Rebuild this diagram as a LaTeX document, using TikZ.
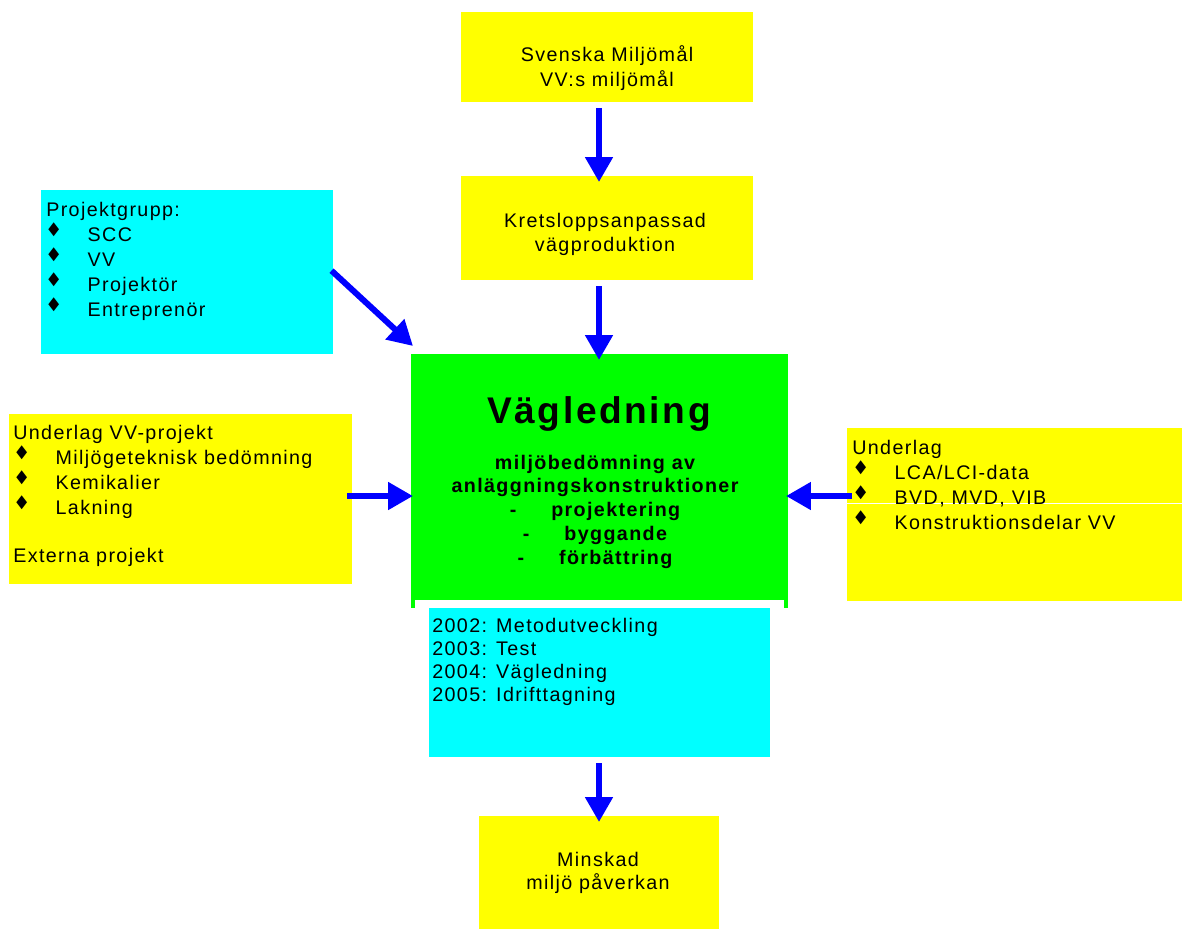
\documentclass[tikz,border=0pt]{standalone}
\usepackage{fontspec}
\setmainfont{Liberation Sans}[LetterSpace=7]
\newfontfamily\bulfont{DejaVu Sans}
\usetikzlibrary{arrows.meta,fit}

\definecolor{vyellow}{RGB}{255,255,0}
\definecolor{vcyan}{RGB}{0,255,255}
\definecolor{vgreen}{RGB}{0,255,0}
\definecolor{vblue}{RGB}{0,0,255}

\newcommand{\bul}{\makebox[28pt][l]{\raisebox{\dimexpr 8pt-(\height-\depth)/2\relax}[8pt][0pt]{\scalebox{1}[1.3]{\bulfont\fontsize{10}{10}\selectfont ◆}}}}

\tikzset{
  box/.style={inner sep=0pt, outer sep=0pt},
  ybox/.style={box, fill=vyellow},
  cbox/.style={box, fill=vcyan},
  txt/.style={inner sep=0pt, anchor=base west, font=\fontsize{14}{17}\selectfont},
  ctxt/.style={txt, anchor=base},
  btxt/.style={ctxt, font=\bfseries\fontsize{14}{17}\selectfont},
  arr/.style={vblue, line width=0.15cm, -{Triangle[length=0.62cm,width=0.66cm]},
    shorten <=0.15cm, shorten >=-0.15cm}
}

\begin{document}
\begin{tikzpicture}[x=0.025cm, y=-0.025cm]
\useasboundingbox (0,0) rectangle (1182,930);

% boxes
\node[ybox, fit={(461,12)(753,102)}] (goal) {};
\node[ybox, fit={(461,176)(753,280)}] (krets) {};
\node[cbox, fit={(41,190)(333,354)}] (proj) {};
\node[box, fill=vgreen, fit={(411,354)(788,608)}] (guide) {};
\fill[white] (415,600) rectangle (784,608);
\node[ybox, fit={(9,414)(352,584)}] (vvproj) {};
\node[ybox, fit={(847,428)(1182,601)}] (lca) {};
\draw[white, line width=0.5pt] (lca.west |- 0,503) -- (lca.east |- 0,503);
\node[cbox, fit={(429,608)(770,757)}] (plan) {};
\node[ybox, fit={(479,816)(719,929)}] (result) {};

% texts
\node[ctxt] (goal1) at (607,61) {Svenska Miljömål};
\node[ctxt] (goal2) at (607,86) {VV:s miljömål};
\node[ctxt] (krets1) at (605,227) {Kretsloppsanpassad};
\node[ctxt] (krets2) at (605,251) {vägproduktion};

\node[txt] (proj0) at (46,216) {Projektgrupp:};
\foreach \t [count=\i] in {SCC,VV,Projektör,Entreprenör}
  \node[txt] (proj\i) at (48,216+25*\i) {\bul\t};

\node[txt] (vv0) at (13,439) {Underlag VV-projekt};
\foreach \t [count=\i] in {Miljögeteknisk bedömning,Kemikalier,Lakning}
  \node[txt] (vv\i) at (16,439+25*\i) {\bul\t};
\node[txt] (vv4) at (13,562) {Externa projekt};

\node[txt] (lca0) at (852,454) {Underlag};
\foreach \t [count=\i] in {LCA/LCI-data,{BVD, MVD, VIB},Konstruktionsdelar VV}
  \node[txt] (lca\i) at (855,454+25*\i) {\bul\t};

\node[ctxt, font=\bfseries\fontsize{26.4}{30}\selectfont] (title) at (599,423) {Vägledning};
\node[btxt] (sub1) at (595,469) {miljöbedömning av};
\node[btxt] (sub2) at (595,492) {anläggningskonstruktioner};
\foreach \t [count=\i] in {projektering,byggande,förbättring}
  \node[btxt] (step\i) at (595,493+23.7*\i) {\makebox[29.5pt][l]{-}\t};

\foreach \t [count=\i] in {2002: Metodutveckling,2003: Test,2004: Vägledning,2005: Idrifttagning}
  \node[txt] (plan\i) at (432,608.7+23.3*\i) {\t};

\node[ctxt] (res1) at (598,866) {Minskad};
\node[ctxt] (res2) at (598,889) {miljö påverkan};

% arrows
\coordinate (axis) at (599,0);
\coordinate (mid) at (0,496);
\draw[arr] (goal.south -| axis) -- (krets.north -| axis);
\draw[arr] (krets.south -| axis) -- (guide.north -| axis);
\draw[arr] (plan.south -| axis) -- (result.north -| axis);
\draw[arr, shorten <=-0.05cm, shorten >=0pt] (proj.east) -- ([shift={(2,-8)}]guide.north west);
\draw[arr, shorten <=-0.125cm, shorten >=-0.05cm] (vvproj.east |- mid) -- (guide.west |- mid);
\draw[arr, shorten <=-0.125cm, shorten >=-0.05cm] (lca.west |- mid) -- (guide.east |- mid);
\end{tikzpicture}
\end{document}
